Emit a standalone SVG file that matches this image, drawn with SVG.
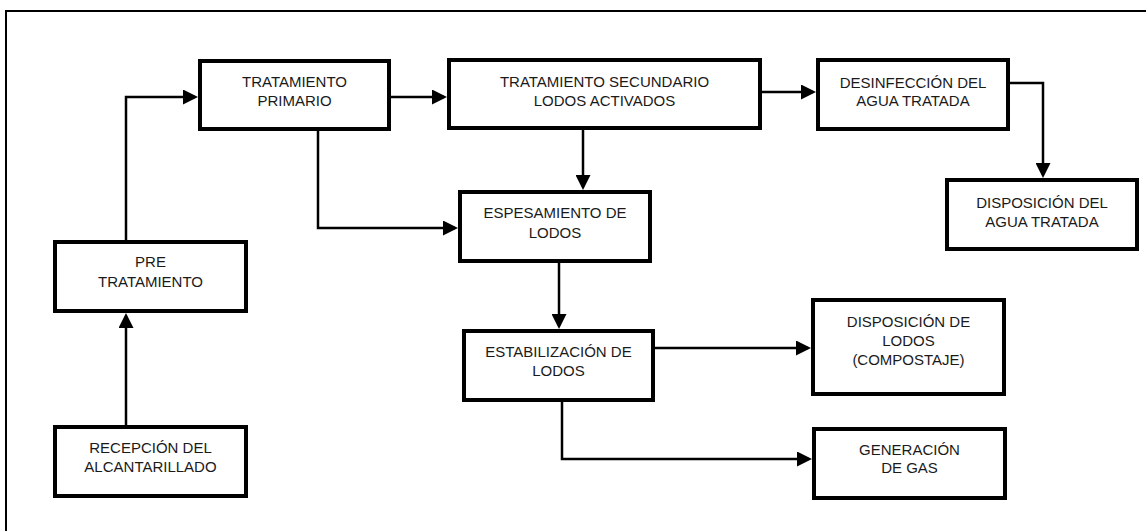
<svg xmlns="http://www.w3.org/2000/svg" width="1146" height="531" viewBox="0 0 1146 531">
  <style>
    .box { fill: #ffffff; stroke: #000000; stroke-width: 4; }
    .lbl { font-family: "Liberation Sans", Arial, sans-serif; font-size: 15px; fill: #1a1a1a; text-anchor: middle; }
    .wire { fill: none; stroke: #000000; stroke-width: 2.5; marker-end: url(#arrow); }
    .frame { fill: none; stroke: #000000; stroke-width: 2; }
  </style>
  <defs>
    <marker id="arrow" viewBox="0 0 15 15" refX="12" refY="7.5" markerWidth="15" markerHeight="15" markerUnits="userSpaceOnUse" orient="auto">
      <path d="M0,0 L15,7.5 L0,15 z" fill="#000000"/>
    </marker>
  </defs>

  <rect width="1146" height="531" fill="#ffffff"/>
  <!-- outer frame, runs past the right and bottom edges -->
  <rect class="frame" x="6" y="11" width="1160" height="540"/>

  <g id="connectors">
    <path class="wire" d="M126 425 V316"/>
    <path class="wire" d="M126 240 V97 H195"/>
    <path class="wire" d="M391 97 H444"/>
    <path class="wire" d="M318 131 V228 H455"/>
    <path class="wire" d="M583 130 V187"/>
    <path class="wire" d="M758 92 H813"/>
    <path class="wire" d="M1010 83 H1043 V175"/>
    <path class="wire" d="M559 263 V326"/>
    <path class="wire" d="M655 348 H808"/>
    <path class="wire" d="M562 402 V459 H809"/>
  </g>

  <g id="recepcion">
    <rect class="box" x="55" y="427" width="191" height="69"/>
    <text class="lbl" x="150.5" y="453">RECEPCIÓN DEL</text>
    <text class="lbl" x="150.5" y="472">ALCANTARILLADO</text>
  </g>

  <g id="pretratamiento">
    <rect class="box" x="55" y="242" width="191" height="69"/>
    <text class="lbl" x="150.5" y="267">PRE</text>
    <text class="lbl" x="150.5" y="287">TRATAMIENTO</text>
  </g>

  <g id="primario">
    <rect class="box" x="200" y="61" width="189" height="68"/>
    <text class="lbl" x="294.5" y="87">TRATAMIENTO</text>
    <text class="lbl" x="294.5" y="106">PRIMARIO</text>
  </g>

  <g id="secundario">
    <rect class="box" x="449" y="60" width="311" height="68"/>
    <text class="lbl" x="604.5" y="87">TRATAMIENTO SECUNDARIO</text>
    <text class="lbl" x="604.5" y="106">LODOS ACTIVADOS</text>
  </g>

  <g id="desinfeccion">
    <rect class="box" x="818" y="60" width="190" height="69"/>
    <text class="lbl" x="913" y="88">DESINFECCIÓN DEL</text>
    <text class="lbl" x="913" y="106">AGUA TRATADA</text>
  </g>

  <g id="disposicion-agua">
    <rect class="box" x="947" y="180" width="190" height="69"/>
    <text class="lbl" x="1042" y="208">DISPOSICIÓN DEL</text>
    <text class="lbl" x="1042" y="227">AGUA TRATADA</text>
  </g>

  <g id="espesamiento">
    <rect class="box" x="460" y="192" width="190" height="69"/>
    <text class="lbl" x="555" y="218">ESPESAMIENTO DE</text>
    <text class="lbl" x="555" y="238">LODOS</text>
  </g>

  <g id="estabilizacion">
    <rect class="box" x="464" y="331" width="189" height="69"/>
    <text class="lbl" x="558.5" y="357">ESTABILIZACIÓN DE</text>
    <text class="lbl" x="558.5" y="376">LODOS</text>
  </g>

  <g id="disposicion-lodos">
    <rect class="box" x="813" y="300" width="191" height="94"/>
    <text class="lbl" x="908.5" y="327">DISPOSICIÓN DE</text>
    <text class="lbl" x="908.5" y="346">LODOS</text>
    <text class="lbl" x="908.5" y="365">(COMPOSTAJE)</text>
  </g>

  <g id="generacion-gas">
    <rect class="box" x="814" y="429" width="191" height="69"/>
    <text class="lbl" x="909.5" y="455">GENERACIÓN</text>
    <text class="lbl" x="909.5" y="473">DE GAS</text>
  </g>
</svg>
